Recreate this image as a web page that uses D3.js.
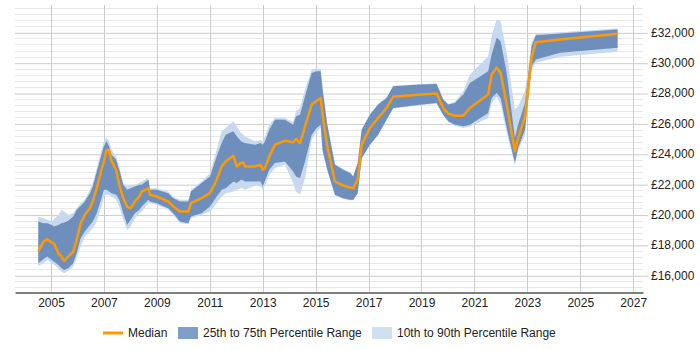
<!DOCTYPE html>
<html>

<head>
  <meta charset="utf-8">
  <title>Salary trend</title>
  <script src="https://cdn.jsdelivr.net/npm/d3@7"></script>
  <style>
    body { margin: 0; background: #fff; }
    text { font-family: "Liberation Sans", Arial, sans-serif; font-size: 12px; fill: #222; }
  </style>
</head>

<body>
  <script type="text/javascript">
    // decimal years of each sample
    var years = [2004.52, 2004.71, 2004.86, 2005.03, 2005.12, 2005.28, 2005.40, 2005.50, 2005.65, 2005.84,
      2005.97, 2006.12, 2006.28, 2006.47, 2006.58, 2006.73, 2006.89, 2007.00, 2007.10, 2007.19,
      2007.29, 2007.46, 2007.58, 2007.73, 2007.88, 2008.01, 2008.17, 2008.34, 2008.43, 2008.68,
      2008.74, 2008.99, 2009.43, 2009.62, 2009.87, 2010.19, 2010.29, 2010.69, 2011.01, 2011.26,
      2011.45, 2011.60, 2011.89, 2012.02, 2012.18, 2012.27, 2012.33, 2012.71, 2012.92, 2013.00,
      2013.08, 2013.25, 2013.46, 2013.84, 2014.15, 2014.26, 2014.41, 2014.60, 2014.85, 2015.04,
      2015.19, 2015.26, 2015.44, 2015.73, 2016.04, 2016.30, 2016.42, 2016.59, 2016.74, 2017.05,
      2017.36, 2017.68, 2017.93, 2019.00, 2019.57, 2019.82, 2020.01, 2020.26, 2020.58, 2020.83,
      2021.52, 2021.65, 2021.84, 2021.99, 2022.22, 2022.53, 2022.65, 2022.91, 2023.16, 2023.32,
      2024.24, 2026.41];

    var p10 = [16610, 16790, 17010, 16790, 16700, 16460, 16240, 16130, 16300, 16570,
      17120, 17890, 18550, 18880, 19100, 19540, 20420, 21190, 21300, 21300,
      21190, 20970, 20530, 19650, 18990, 19210, 19760, 20090, 20200, 20750,
      20750, 20640, 20310, 19980, 19430, 19380, 19760, 19980, 20200, 20750,
      21190, 21410, 21520, 21630, 21740, 21700, 21630, 21900, 21850, 21630,
      21900, 22620, 23060, 23280, 22070, 21520, 21300, 22400, 24930, 25480,
      25700, 24100, 22900, 21250, 21030, 20940, 20940, 21370, 23680, 24560,
      25220, 26210, 26980, 27200, 27310, 26540, 26100, 25850, 25700, 25800,
      26360, 27350, 27750, 27240, 25370, 23280, 24200, 25260, 29550, 29990,
      30390, 30720];

    var p25 = [16790, 17060, 17230, 17010, 16900, 16680, 16460, 16350, 16460, 16790,
      17450, 18440, 18880, 19320, 19540, 20090, 20970, 21630, 21630, 21520,
      21410, 21300, 20970, 20090, 19320, 19650, 20090, 20310, 20530, 20970,
      20860, 20750, 20420, 20090, 19540, 19430, 19870, 20090, 20530, 21190,
      21630, 21740, 22180, 22070, 22290, 22250, 22180, 22180, 22180, 21850,
      22200, 22950, 23390, 23500, 22840, 22510, 22400, 23500, 25260, 25700,
      25920, 24270, 22950, 21300, 21080, 20970, 20970, 21410, 23720, 24600,
      25260, 26250, 27020, 27240, 27350, 26580, 26140, 25920, 25810, 25920,
      26690, 27680, 28010, 27680, 25700, 23390, 24380, 25590, 29770, 30210,
      30650, 30980];

    var median = [17550, 18220, 18380, 18150, 18070, 17450, 17230, 16940, 17230, 17560,
      18330, 19430, 19980, 20420, 20860, 21740, 22840, 23500, 24270, 24220,
      23500, 22950, 21960, 21080, 20490, 20420, 20860, 21190, 21520, 21740,
      21300, 21190, 20860, 20530, 20200, 20200, 20750, 21080, 21410, 22290,
      23170, 23500, 23880, 23170, 23390, 23430, 23170, 23170, 23280, 22950,
      23060, 23830, 24600, 24860, 24750, 24980, 24710, 25800, 27240, 27500,
      27680, 26580, 24490, 22180, 21910, 21780, 21740, 22290, 24600, 25700,
      26360, 27020, 27750, 27900, 27970, 27020, 26650, 26510, 26510, 27020,
      27900, 29220, 29660, 29330, 27240, 24160, 25040, 26470, 30320, 31350,
      31530, 31910];

    var p75 = [19540, 19430, 19430, 19320, 19210, 19320, 19430, 19470, 19600, 19870,
      20310, 20570, 20860, 21410, 21850, 22840, 23830, 24490, 24820, 24490,
      23940, 23610, 22950, 21960, 21630, 21740, 21850, 21960, 21960, 22290,
      21630, 21630, 21410, 21080, 20860, 20860, 21520, 22070, 22510, 23830,
      24710, 25260, 25480, 25150, 24820, 24750, 24710, 24600, 24710, 24600,
      24800, 25590, 26250, 26250, 25920, 26470, 26580, 27790, 29330, 29440,
      29440, 28230, 25920, 23280, 22950, 22730, 22510, 23390, 25590, 26580,
      27240, 27680, 28450, 28560, 28600, 27570, 27240, 27350, 27900, 28670,
      29440, 30540, 31640, 31420, 29330, 25040, 25920, 27350, 31090, 31800,
      31930, 32190];

    var p90 = [19870, 19760, 19650, 19540, 19700, 19980, 20310, 20200, 19980, 20090,
      20420, 20750, 21000, 21630, 22070, 23060, 24160, 24820, 25080, 24820,
      24270, 23830, 23170, 22070, 21850, 21960, 21960, 22070, 22180, 22400,
      21740, 21740, 21520, 21190, 20970, 20970, 21630, 22180, 22730, 24270,
      25480, 25700, 26140, 25810, 25370, 25250, 25150, 24820, 24900, 24820,
      25100, 25920, 26360, 26360, 26100, 26800, 27020, 28230, 29550, 29620,
      29620, 28600, 26000, 23350, 23000, 22800, 22560, 23430, 25640, 26620,
      27280, 27720, 28490, 28600, 28640, 27610, 27280, 27450, 28120, 29220,
      30430, 31750, 32850, 32740, 30650, 26910, 27130, 28120, 31310, 31900,
      32000, 32260];

    var xTicks = [2005, 2007, 2009, 2011, 2013, 2015, 2017, 2019, 2021, 2023, 2025, 2027];
    var yTicks = [16000, 18000, 20000, 22000, 24000, 26000, 28000, 30000, 32000];

    var legendItems = ["Median", "25th to 75th Percentile Range", "10th to 90th Percentile Range"];

    //Width and height
    var w = 700;
    var h = 350;
    var plotLeft = 15, plotRight = 643, plotTop = 5, plotBottom = 292;

    var x = d3.scaleLinear().domain([2003.64, 2027.37]).range([plotLeft, plotRight]);
    var y = d3.scaleLinear().domain([14900, 33800]).range([plotBottom, plotTop]);

    var rows = years.map(function(yr, i) {
      return { yr: yr, p10: p10[i], p25: p25[i], med: median[i], p75: p75[i], p90: p90[i] };
    });

    var svg = d3.select("body")
      .append("svg")
      .attr("width", w)
      .attr("height", h);

    // minor horizontal grid
    var gridG = svg.append("g").attr("class", "grid");
    gridG.selectAll("line.minor")
      .data(d3.range(15200, 33700, 400).filter(function(v) { return v % 2000 !== 0; }))
      .enter()
      .append("line")
      .attr("class", "minor")
      .attr("x1", plotLeft).attr("x2", plotRight)
      .attr("y1", function(d) { return Math.round(y(d)) + 0.5; })
      .attr("y2", function(d) { return Math.round(y(d)) + 0.5; })
      .attr("stroke", "#e8e8e8");

    // vertical grid
    gridG.selectAll("line.vert")
      .data(xTicks)
      .enter()
      .append("line")
      .attr("class", "vert")
      .attr("x1", function(d) { return Math.round(x(d)) + 0.5; })
      .attr("x2", function(d) { return Math.round(x(d)) + 0.5; })
      .attr("y1", plotTop).attr("y2", plotBottom)
      .attr("stroke", "#cccccc");

    // right y axis (major lines + labels)
    var yAxis = d3.axisRight(y)
      .tickValues(yTicks)
      .tickSize(0)
      .tickFormat(function(d) { return "£" + d3.format(",")(d); });

    var yG = svg.append("g")
      .attr("transform", "translate(" + plotRight + ",0)")
      .call(yAxis);
    yG.select(".domain").remove();
    yG.selectAll(".tick line")
      .attr("x1", -(plotRight - plotLeft))
      .attr("x2", 5)
      .attr("y1", 0.5).attr("y2", 0.5)
      .attr("stroke", "#cccccc");
    yG.selectAll(".tick text")
      .attr("x", 8)
      .style("font-family", "'Liberation Sans', Arial, sans-serif")
      .style("font-size", "12px")
      .attr("fill", "#222");

    // bands
    var outer = d3.area()
      .x(function(d) { return x(d.yr); })
      .y0(function(d) { return y(d.p10); })
      .y1(function(d) { return y(d.p90); });

    var inner = d3.area()
      .x(function(d) { return x(d.yr); })
      .y0(function(d) { return y(d.p25); })
      .y1(function(d) { return y(d.p75); });

    var medLine = d3.line()
      .x(function(d) { return x(d.yr); })
      .y(function(d) { return y(d.med); });

    svg.append("path").datum(rows).attr("d", outer).attr("fill", "#c6d9ee");
    svg.append("path").datum(rows).attr("d", inner).attr("fill", "#6e8fbb");
    svg.append("path").datum(rows).attr("d", medLine)
      .attr("fill", "none")
      .attr("stroke", "#ff9900")
      .attr("stroke-width", 2.5)
      .attr("stroke-linejoin", "round");

    // bottom x axis
    var xAxis = d3.axisBottom(x)
      .tickValues(xTicks)
      .tickSize(0)
      .tickPadding(6)
      .tickFormat(d3.format("d"));

    var xG = svg.append("g")
      .attr("transform", "translate(0," + (plotBottom + 0.5) + ")")
      .call(xAxis);
    xG.select(".domain").attr("stroke", "#000").attr("stroke-width", 1.2);
    xG.selectAll(".tick text")
      .style("font-family", "'Liberation Sans', Arial, sans-serif")
      .style("font-size", "12px")
      .attr("fill", "#222");

    // legend
    var legG = svg.append("g").attr("transform", "translate(0,333)");
    legG.append("line")
      .attr("x1", 103).attr("x2", 123).attr("y1", 0).attr("y2", 0)
      .attr("stroke", "#ff9900").attr("stroke-width", 3);
    legG.append("text").attr("x", 128).attr("y", 4).text(legendItems[0]);
    legG.append("rect").attr("x", 178).attr("y", -6).attr("width", 20).attr("height", 12).attr("fill", "#7f9fc8");
    legG.append("text").attr("x", 203).attr("y", 4).text(legendItems[1]);
    legG.append("rect").attr("x", 372).attr("y", -6).attr("width", 20).attr("height", 12).attr("fill", "#cfe0f2");
    legG.append("text").attr("x", 397).attr("y", 4).text(legendItems[2]);
  </script>

</body>

</html>
